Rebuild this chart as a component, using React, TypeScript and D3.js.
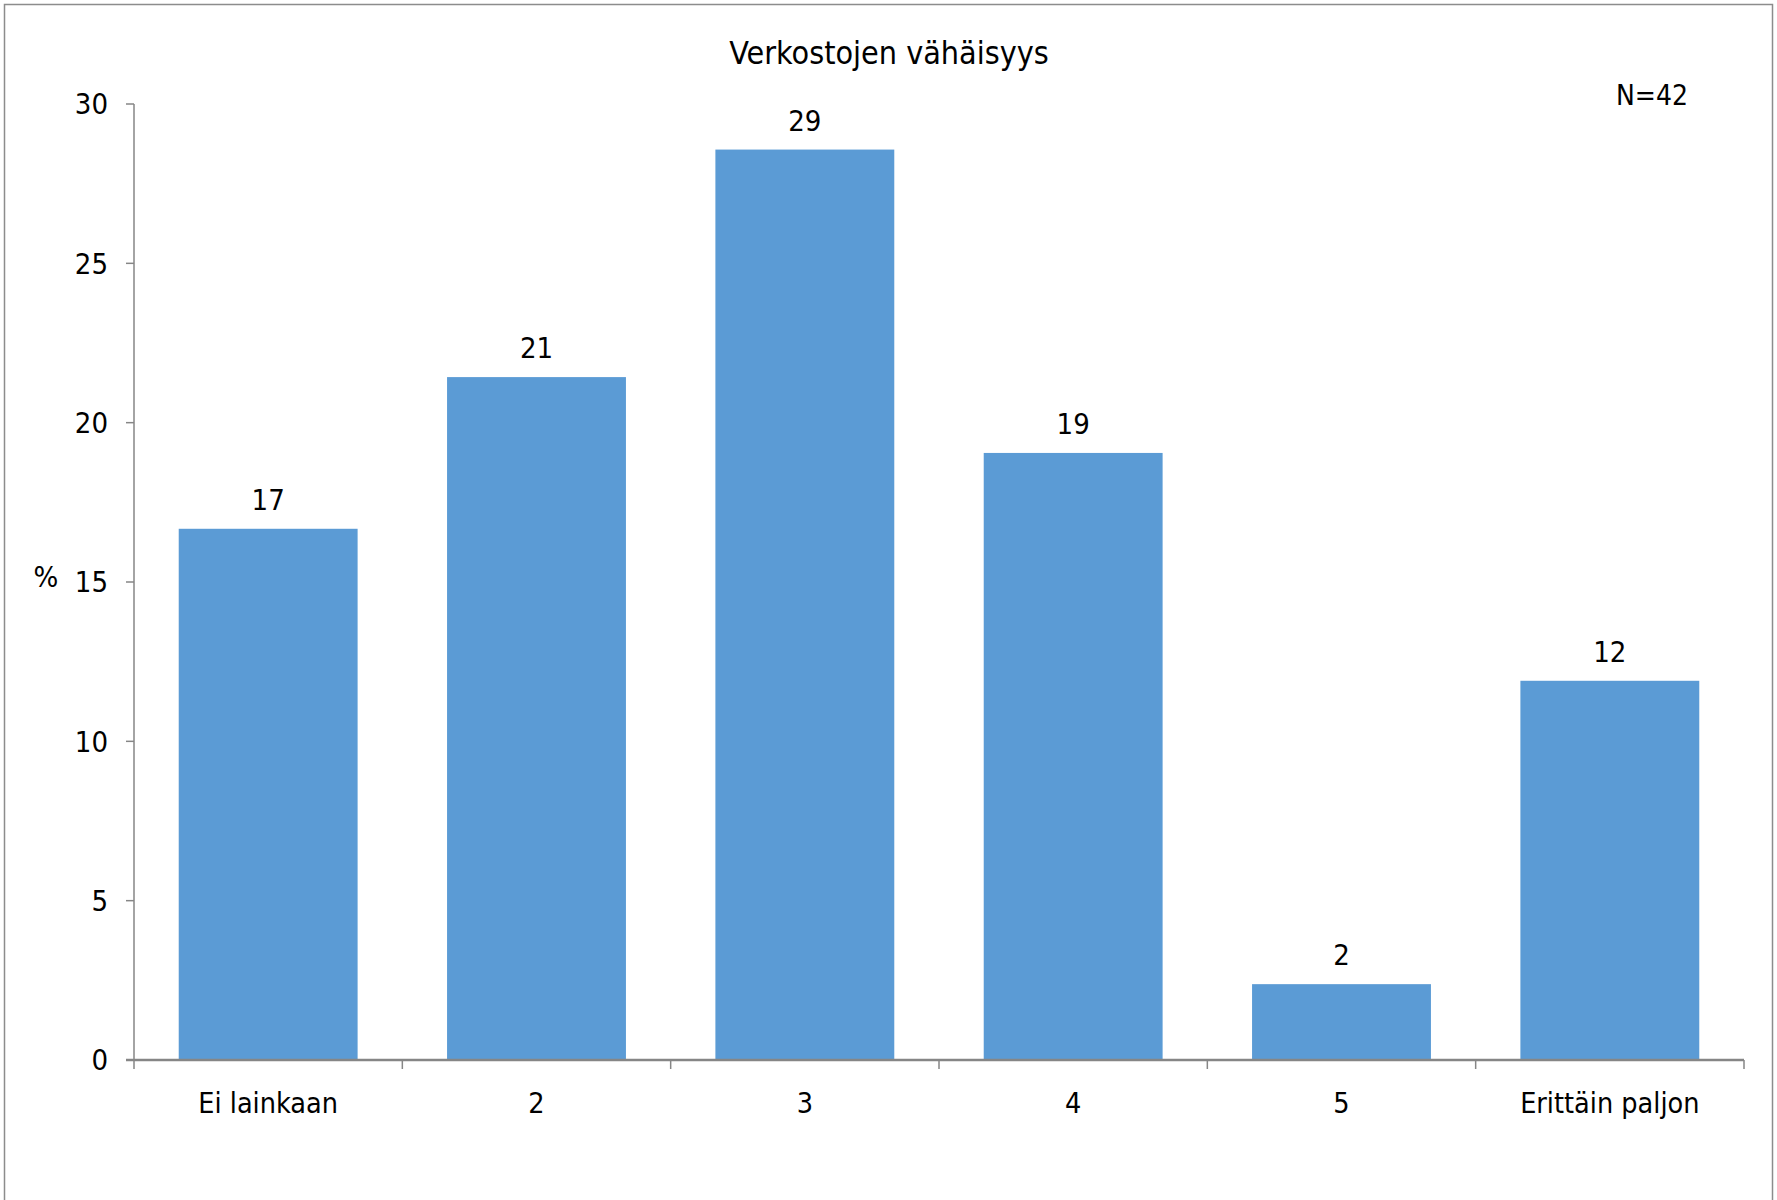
import React from "react";
import * as d3 from "d3";

const categories = ["Ei lainkaan", "2", "3", "4", "5", "Erittäin paljon"];
const values = [16.67, 21.43, 28.57, 19.05, 2.38, 11.9];
const valueLabels = ["17", "21", "29", "19", "2", "12"];
const yTicks = [0, 5, 10, 15, 20, 25, 30];
const title = "Verkostojen vähäisyys";
const nLabel = "N=42";
const yLabel = "%";

const W = 1777;
const H = 1200;
const FONT = "'Liberation Sans Narrow', 'DejaVu Sans Condensed', 'Arial Narrow', sans-serif";

export default function App() {
  const left = 134;
  const right = 1744;
  const top = 104;
  const bottom = 1060;

  const x = d3
    .scaleBand<string>()
    .domain(categories)
    .range([left, right])
    .paddingInner(1 / 3)
    .paddingOuter(1 / 6);
  const y = d3.scaleLinear().domain([0, 30]).range([bottom, top]);

  const axisColor = "#868686";
  const boundaries = d3.range(categories.length + 1).map((i) => left + i * ((right - left) / categories.length));

  return (
    <svg
      width={W}
      height={H}
      style={{ position: "absolute", left: 0, top: 0, background: "#fff" }}
      fontFamily={FONT}
    >
      <rect x={0} y={0} width={W} height={H} fill="#fff" />
      <rect x={4.5} y={4.5} width={W - 9} height={H} fill="none" stroke="#8c8c8c" strokeWidth={1.5} />

      <text x={889} y={64} textAnchor="middle" fontSize={32} fill="#000">
        {title}
      </text>
      <text x={1652} y={105} textAnchor="middle" fontSize={28} fill="#000">
        {nLabel}
      </text>

      {categories.map((c, i) => (
        <rect
          key={c}
          x={x(c)}
          y={y(values[i])}
          width={x.bandwidth()}
          height={y(0) - y(values[i])}
          fill="#5B9BD5"
        />
      ))}

      {categories.map((c, i) => (
        <text
          key={"v" + c}
          x={(x(c) as number) + x.bandwidth() / 2}
          y={y(values[i]) - 19}
          textAnchor="middle"
          fontSize={29}
          fill="#000"
        >
          {valueLabels[i]}
        </text>
      ))}

      <line x1={left} x2={left} y1={top} y2={bottom} stroke={axisColor} strokeWidth={1.5} />
      {yTicks.map((t) => (
        <g key={"yt" + t}>
          <line x1={left - 8} x2={left} y1={y(t)} y2={y(t)} stroke={axisColor} strokeWidth={1.5} />
          <text x={108} y={y(t)} dy="0.36em" textAnchor="end" fontSize={29} fill="#000">
            {t}
          </text>
        </g>
      ))}
      <text x={46} y={y(15) - 5} dy="0.36em" textAnchor="middle" fontSize={29} fill="#000">
        {yLabel}
      </text>

      <line x1={left - 8} x2={right} y1={bottom} y2={bottom} stroke={axisColor} strokeWidth={2.5} />
      {boundaries.map((b, i) => (
        <line key={"xt" + i} x1={b} x2={b} y1={bottom} y2={bottom + 9} stroke={axisColor} strokeWidth={1.5} />
      ))}
      {categories.map((c) => (
        <text
          key={"xl" + c}
          x={(x(c) as number) + x.bandwidth() / 2}
          y={1113}
          textAnchor="middle"
          fontSize={28.5}
          fill="#000"
        >
          {c}
        </text>
      ))}
    </svg>
  );
}
